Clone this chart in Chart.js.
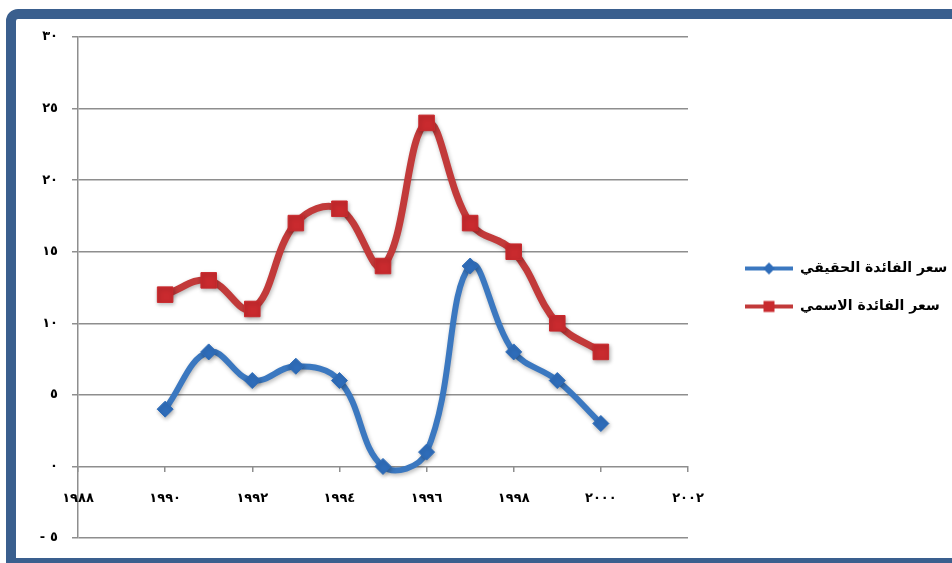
<!DOCTYPE html>
<html lang="ar">
<head>
<meta charset="utf-8">
<script src="https://cdn.jsdelivr.net/npm/chart.js@4/dist/chart.umd.min.js"></script>
<style>
  html, body { margin: 0; padding: 0; background: #ffffff; }
  #wrap { position: relative; width: 952px; height: 563px; overflow: hidden; background: #ffffff; }
  #frame {
    position: absolute; left: 6px; top: 9px; width: 1000px; height: 559px;
    box-sizing: border-box; border: 10px solid #3A5F8E; border-top-left-radius: 12px;
    background: #ffffff;
  }
  #chart { position: absolute; left: 0; top: 0; }
</style>
</head>
<body>
<div id="wrap">
  <div id="frame"></div>
  <canvas id="chart" width="952" height="563"></canvas>
</div>
<script>
// Years and interest rates (%)
const years = [1990, 1991, 1992, 1993, 1994, 1995, 1996, 1997, 1998, 1999, 2000];
const realRate = [4, 8, 6, 7, 6, 0, 1, 14, 8, 6, 3];
const nominalRate = [12, 13, 11, 17, 18, 14, 24, 17, 15, 10, 8];

const seriesNames = ['سعر الفائدة الحقيقي', 'سعر الفائدة الاسمي'];

// Axis ticks with Arabic-Indic digits
const xTickValues = [1988, 1990, 1992, 1994, 1996, 1998, 2000, 2002];
const xTickLabels = ['١٩٨٨', '١٩٩٠', '١٩٩٢', '١٩٩٤', '١٩٩٦', '١٩٩٨', '٢٠٠٠', '٢٠٠٢'];
const yTickValues = [-5, 0, 5, 10, 15, 20, 25, 30];
const yTickLabels = ['-٥', '٠', '٥', '١٠', '١٥', '٢٠', '٢٥', '٣٠'];

const BLUE = '#3B78C0';
const BLUE_MARK = '#2F6DBA';
const RED = '#C23A3A';
const RED_MARK = '#C92A2E';
const GRID = '#8E8E8E';

const LEGEND_FONT = { family: "'DejaVu Sans', sans-serif", size: 14, weight: 'bold' };
const LEGEND_PAD = 24;
const LEGEND_SPACE = 264;   // room to the right of the plot area

// Legend swatch: transparent lead-in, then a short line with its marker
const SWATCH_W = 81;
function legendSwatch(color, markColor, shape) {
  const c = document.createElement('canvas');
  c.width = SWATCH_W; c.height = 18;
  const g = c.getContext('2d');
  const x0 = SWATCH_W - 48, cx = x0 + 24;
  g.strokeStyle = color; g.lineWidth = 4;
  g.beginPath(); g.moveTo(x0, 9); g.lineTo(x0 + 48, 9); g.stroke();
  g.fillStyle = markColor;
  g.beginPath();
  if (shape === 'diamond') {
    g.moveTo(cx, 3); g.lineTo(cx + 6, 9); g.lineTo(cx, 15); g.lineTo(cx - 6, 9);
  } else {
    g.rect(cx - 5.5, 3.5, 11, 11);
  }
  g.closePath(); g.fill();
  return c;
}
const swatches = [legendSwatch(BLUE, BLUE_MARK, 'diamond'), legendSwatch(RED, RED_MARK, 'square')];

// Width the legend asks for, so the leftover becomes right padding
const measureCtx = document.createElement('canvas').getContext('2d');
measureCtx.font = `${LEGEND_FONT.weight} ${LEGEND_FONT.size}px ${LEGEND_FONT.family}`;
const legendTextW = Math.max(...seriesNames.map(s => measureCtx.measureText(s).width));
const legendNeed = LEGEND_PAD + SWATCH_W + LEGEND_FONT.size / 2 + legendTextW + 10;
const rightPad = Math.max(0, Math.round(LEGEND_SPACE - legendNeed));

const toPoints = (vals) => vals.map((v, i) => ({ x: years[i], y: v }));

// Soft drop shadow under the lines; wider digit spacing for the axis labels drawn afterwards
const chartStyling = {
  id: 'chartStyling',
  beforeDatasetsDraw(chart) {
    const c = chart.ctx;
    c.save();
    c.shadowColor = 'rgba(0,0,0,0.28)';
    c.shadowBlur = 4;
    c.shadowOffsetX = 1;
    c.shadowOffsetY = 2;
  },
  afterDatasetsDraw(chart) {
    chart.ctx.restore();
    chart.ctx.letterSpacing = '5px';
  },
  afterDraw(chart) { chart.ctx.letterSpacing = '0px'; }
};

const tickFont = { family: "'DejaVu Sans', sans-serif", size: 13, weight: 'bold' };

new Chart(document.getElementById('chart'), {
  type: 'line',
  data: {
    datasets: [
      {
        label: seriesNames[0],
        data: toPoints(realRate),
        borderColor: BLUE,
        backgroundColor: BLUE_MARK,
        borderWidth: 6,
        tension: 0.4,
        pointStyle: 'rectRot',
        pointRadius: 8,
        pointHoverRadius: 8,
        pointBorderWidth: 1,
        pointBorderColor: BLUE_MARK,
        pointBackgroundColor: BLUE_MARK
      },
      {
        label: seriesNames[1],
        data: toPoints(nominalRate),
        borderColor: RED,
        backgroundColor: RED_MARK,
        borderWidth: 7,
        tension: 0.4,
        pointStyle: 'rect',
        pointRadius: 11,
        pointHoverRadius: 11,
        pointBorderWidth: 1,
        pointBorderColor: RED_MARK,
        pointBackgroundColor: RED_MARK
      }
    ]
  },
  options: {
    responsive: false,
    animation: false,
    layout: { padding: { top: 37, bottom: 25, left: 0, right: rightPad } },
    plugins: {
      tooltip: { enabled: false },
      legend: {
        position: 'right',
        maxWidth: LEGEND_SPACE - rightPad,
        labels: {
          usePointStyle: true,
          pointStyleWidth: SWATCH_W,
          padding: LEGEND_PAD,
          color: '#000000',
          font: LEGEND_FONT,
          generateLabels(chart) {
            const items = Chart.defaults.plugins.legend.labels.generateLabels(chart);
            items.forEach((it, i) => { it.pointStyle = swatches[i]; });
            return items;
          }
        }
      }
    },
    scales: {
      x: {
        type: 'linear',
        position: { y: 0 },
        min: 1988,
        max: 2002,
        afterBuildTicks(scale) { scale.ticks = xTickValues.map(v => ({ value: v })); },
        afterFit(scale) { scale.height = 0; },
        ticks: {
          z: 1,
          padding: 18,
          color: '#000000',
          font: tickFont,
          callback: (v) => xTickLabels[xTickValues.indexOf(v)]
        },
        grid: { drawOnChartArea: false, drawTicks: true, tickLength: 6, color: GRID, lineWidth: 1.5 },
        border: { display: false }
      },
      y: {
        type: 'linear',
        position: 'left',
        min: -5,
        max: 30,
        afterBuildTicks(scale) { scale.ticks = yTickValues.map(v => ({ value: v })); },
        afterFit(scale) { scale.width = 78; },
        ticks: {
          z: 1,
          padding: 14,
          color: '#000000',
          font: tickFont,
          callback: (v) => yTickLabels[yTickValues.indexOf(v)]
        },
        grid: { color: GRID, lineWidth: 1.5, tickLength: 6 },
        border: { display: true, color: GRID, width: 1.5 }
      }
    }
  },
  plugins: [chartStyling]
});
</script>
</body>
</html>
